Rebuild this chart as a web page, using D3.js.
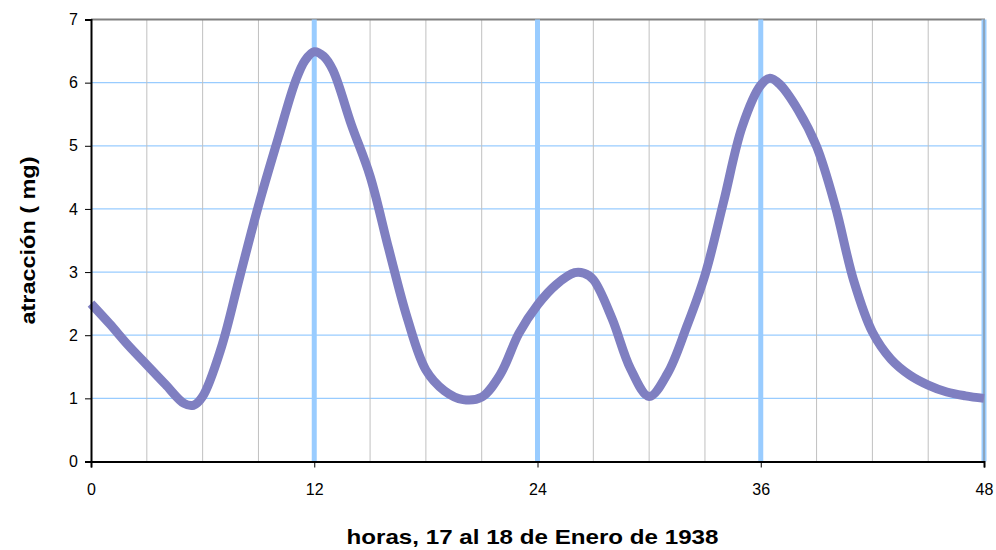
<!DOCTYPE html>
<html>
<head>
<meta charset="utf-8">
<script src="https://cdn.jsdelivr.net/npm/d3@7"></script>
<style>
  html, body { margin: 0; padding: 0; background: #fff; }
  svg { display: block; font-family: Arial, "Liberation Sans", sans-serif; }
</style>
</head>
<body>
<svg id="chart" width="996" height="550"></svg>
<script>
// ---- data ----
const hours = [0, 1, 2, 3, 4, 5, 5.5, 6, 7, 8, 9, 10, 11, 11.5, 12, 12.5, 13, 14, 15, 16, 17, 18, 19, 20, 21, 22, 23, 24, 25, 26, 26.5, 27, 28, 29, 30, 31, 32, 33, 34, 35, 36, 36.5, 37, 38, 39, 40, 41, 42, 43, 44, 45, 46, 47, 48];
const attraction = [2.50, 2.18, 1.84, 1.53, 1.22, 0.92, 0.89, 1.03, 1.80, 2.93, 4.05, 5.06, 6.03, 6.35, 6.49, 6.42, 6.20, 5.33, 4.52, 3.37, 2.27, 1.45, 1.12, 0.98, 1.02, 1.38, 2.03, 2.48, 2.80, 2.99, 2.98, 2.88, 2.27, 1.47, 1.03, 1.40, 2.12, 2.95, 4.11, 5.30, 5.96, 6.07, 5.98, 5.57, 4.99, 4.05, 2.86, 2.05, 1.62, 1.37, 1.21, 1.10, 1.04, 1.00];
const xTicks = [0, 12, 24, 36, 48];
const xMinorGrid = [3, 6, 9, 15, 18, 21, 27, 30, 33, 39, 42, 45];
const xMajorGrid = [12, 24, 36, 48];
const yTicks = [0, 1, 2, 3, 4, 5, 6, 7];
const xTitle = "horas, 17 al 18 de Enero de 1938";
const yTitle = "atracción ( mg)";

// ---- layout ----
const svg = d3.select("#chart");
const L = 91, R = 984, T = 19.5, B = 461.5;
const x = d3.scaleLinear().domain([0, 48]).range([L, R]);
const y = d3.scaleLinear().domain([0, 7]).range([B, T]);

// horizontal grid
svg.append("g").selectAll("line").data(yTicks.filter(d => d > 0 && d < 7)).join("line")
  .attr("x1", L).attr("x2", R)
  .attr("y1", d => y(d)).attr("y2", d => y(d))
  .attr("stroke", "#99ccff").attr("stroke-width", 1.3);

// minor vertical grid
svg.append("g").selectAll("line").data(xMinorGrid).join("line")
  .attr("x1", d => x(d)).attr("x2", d => x(d))
  .attr("y1", T).attr("y2", B)
  .attr("stroke", "#c0c0c0").attr("stroke-width", 1);

// top border
svg.append("line").attr("x1", L).attr("x2", R + 1).attr("y1", T).attr("y2", T)
  .attr("stroke", "#808080").attr("stroke-width", 2);

// major vertical grid (thick light blue)
svg.append("g").selectAll("line").data(xMajorGrid).join("line")
  .attr("x1", d => x(d)).attr("x2", d => x(d))
  .attr("y1", T).attr("y2", B)
  .attr("stroke", "#99ccff").attr("stroke-width", 5);
svg.append("line").attr("x1", x(48)).attr("x2", x(48)).attr("y1", T).attr("y2", B)
  .attr("stroke", "#808080").attr("stroke-width", 1);

// data line
const line = d3.line()
  .x((d, i) => x(hours[i]))
  .y(d => y(d))
  .curve(d3.curveCatmullRom.alpha(0.5));
svg.append("path").datum(attraction)
  .attr("d", line)
  .attr("fill", "none")
  .attr("stroke", "#7f7fc1")
  .attr("stroke-width", 9)
  .attr("stroke-linejoin", "round");

// axes
const tickFont = "Arial, 'Liberation Sans', sans-serif";
const yAxis = d3.axisLeft(y).tickValues(yTicks).tickSize(6).tickPadding(7).tickFormat(d3.format("d"));
const gy = svg.append("g").attr("transform", `translate(${L},0)`).call(yAxis);
gy.attr("font-size", null).attr("font-family", null);
gy.select(".domain").attr("stroke", "#000").attr("stroke-width", 2);
gy.selectAll(".tick line").attr("stroke", "#000");
gy.selectAll("text").style("font-size", "16px").attr("fill", "#000").style("font-family", tickFont);

const xAxis = d3.axisBottom(x).tickValues(xTicks).tickSize(6).tickPadding(16).tickFormat(d3.format("d"));
const gx = svg.append("g").attr("transform", `translate(0,${B})`).call(xAxis);
gx.attr("font-size", null).attr("font-family", null);
gx.select(".domain").attr("stroke", "#000").attr("stroke-width", 2);
gx.selectAll(".tick line").attr("stroke", "#000");
gx.selectAll("text").style("font-size", "16px").attr("fill", "#000").style("font-family", tickFont);

// titles
svg.append("text")
  .attr("x", (L + R) / 2 - 5).attr("y", 544)
  .attr("text-anchor", "middle")
  .attr("font-size", 21).attr("font-weight", "bold")
  .attr("textLength", 372).attr("lengthAdjust", "spacingAndGlyphs")
  .text(xTitle);
svg.append("text")
  .attr("transform", `translate(35,${(T + B) / 2}) rotate(-90)`)
  .attr("text-anchor", "middle")
  .attr("font-size", 21).attr("font-weight", "bold")
  .attr("textLength", 168).attr("lengthAdjust", "spacingAndGlyphs")
  .text(yTitle);
</script>
</body>
</html>
